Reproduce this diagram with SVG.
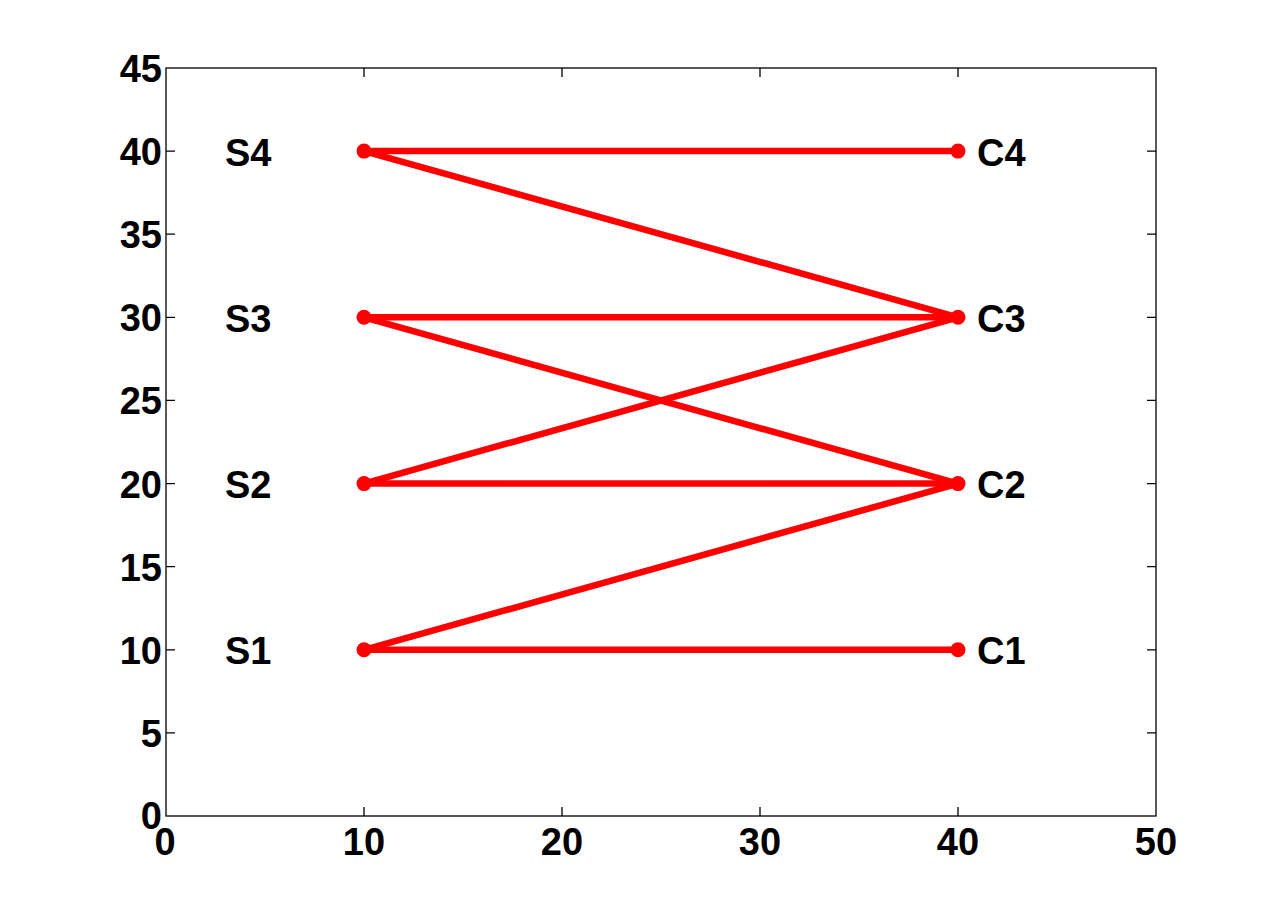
<svg xmlns="http://www.w3.org/2000/svg" width="1277" height="917" viewBox="0 0 1277 917">
<style>
.ax{stroke:#000;stroke-width:1.3;fill:none}
.t{font-family:"Liberation Sans",Arial,sans-serif;font-weight:bold;font-size:38px;fill:#000}
.yl{text-anchor:end}
.xl{text-anchor:middle}
.e{stroke:#ff0000;stroke-width:6.5;stroke-linecap:round;fill:none}
.n{fill:#ff0000}
</style>
<rect width="1277" height="917" fill="#fff"/>
<g id="axes">
<rect class="ax" x="166" y="68" width="990" height="748"/>
<path class="ax" d="M364 816v-9M562 816v-9M760 816v-9M958 816v-9M364 68v9M562 68v9M760 68v9M958 68v9
M166 732.9h9M166 649.8h9M166 566.7h9M166 483.6h9M166 400.4h9M166 317.3h9M166 234.2h9M166 151.1h9
M1156 732.9h-9M1156 649.8h-9M1156 566.7h-9M1156 483.6h-9M1156 400.4h-9M1156 317.3h-9M1156 234.2h-9M1156 151.1h-9"/>
<g class="t yl">
<text x="162" y="829">0</text>
<text x="162" y="746.5">5</text>
<text x="162" y="663.5">10</text>
<text x="162" y="580.5">15</text>
<text x="162" y="497.5">20</text>
<text x="162" y="414">25</text>
<text x="162" y="331">30</text>
<text x="162" y="248">35</text>
<text x="162" y="82">45</text>
<text x="162" y="165">40</text>
</g>
<g class="t xl">
<text x="165" y="855">0</text>
<text x="364" y="855">10</text>
<text x="562" y="855">20</text>
<text x="760" y="855">30</text>
<text x="958" y="855">40</text>
<text x="1156" y="855">50</text>
</g>
</g>
<g id="connectors">
<line class="e" x1="364" y1="151.1" x2="958" y2="151.1"/>
<line class="e" x1="364" y1="151.1" x2="958" y2="317.3"/>
<line class="e" x1="364" y1="317.3" x2="958" y2="317.3"/>
<line class="e" x1="364" y1="317.3" x2="958" y2="483.6"/>
<line class="e" x1="364" y1="483.6" x2="958" y2="317.3"/>
<line class="e" x1="364" y1="483.6" x2="958" y2="483.6"/>
<line class="e" x1="364" y1="649.8" x2="958" y2="483.6"/>
<line class="e" x1="364" y1="649.8" x2="958" y2="649.8"/>
</g>
<g id="S4"><circle class="n" cx="364" cy="151.1" r="7.5"/><text class="t" x="225" y="166">S4</text></g>
<g id="S3"><circle class="n" cx="364" cy="317.3" r="7.5"/><text class="t" x="225" y="332">S3</text></g>
<g id="S2"><circle class="n" cx="364" cy="483.6" r="7.5"/><text class="t" x="225" y="498">S2</text></g>
<g id="S1"><circle class="n" cx="364" cy="649.8" r="7.5"/><text class="t" x="225" y="664">S1</text></g>
<g id="C4"><circle class="n" cx="958" cy="151.1" r="7.5"/><text class="t" x="977" y="166">C4</text></g>
<g id="C3"><circle class="n" cx="958" cy="317.3" r="7.5"/><text class="t" x="977" y="332">C3</text></g>
<g id="C2"><circle class="n" cx="958" cy="483.6" r="7.5"/><text class="t" x="977" y="498">C2</text></g>
<g id="C1"><circle class="n" cx="958" cy="649.8" r="7.5"/><text class="t" x="977" y="664">C1</text></g>
</svg>
